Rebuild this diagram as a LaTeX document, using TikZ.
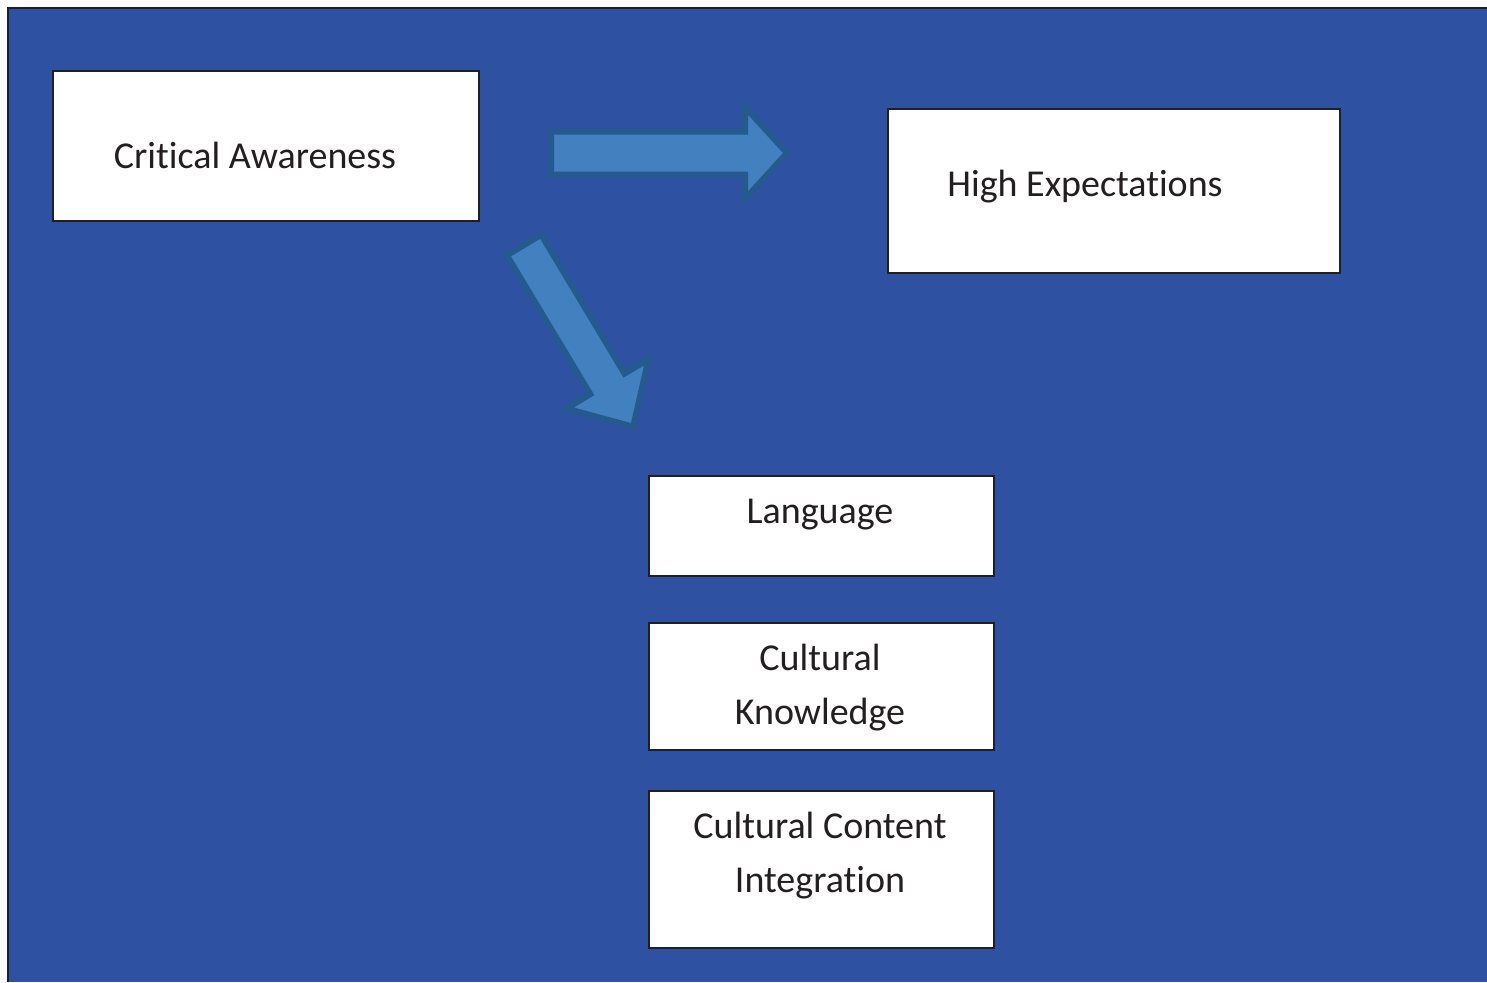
\documentclass[tikz,border=0pt]{standalone}
\usepackage{fontspec}
\setmainfont{Carlito}[Ligatures=NoCommon]
\definecolor{bgblue}{HTML}{2E51A2}
\definecolor{arrowfill}{HTML}{4380BF}
\definecolor{arrowedge}{HTML}{245A8E}
\definecolor{ink}{HTML}{231F20}
\begin{document}
\begin{tikzpicture}[x=1pt,y=-1pt,
  box/.style={draw=ink,line width=2pt,fill=white,inner sep=0pt,anchor=north west},
  label/.style={text=ink,font=\fontsize{38}{54}\selectfont,align=center,inner sep=0pt},
  blockarrow/.style={fill=arrowfill,draw=arrowedge,line width=6pt,line join=miter}]
\useasboundingbox (0,0) rectangle (1487,982);
% page background
\fill[white] (0,0) rectangle (1487,982);
\fill[bgblue] (8,8) rectangle (1487,982);
\draw[ink,line width=2pt] (8,982) -- (8,8) -- (1487,8);

% boxes
\node[box,minimum width=426pt,minimum height=150pt] (ca) at (52,70) {};
\node[box,minimum width=452pt,minimum height=164pt] (he) at (887,108) {};
\node[box,minimum width=345pt,minimum height=100pt] (lang) at (648,475) {};
\node[box,minimum width=345pt,minimum height=127pt] (ck) at (648,622) {};
\node[box,minimum width=345pt,minimum height=157pt] (cci) at (648,790) {};

% labels
\node[label] (tca) at (255,155) {Critical Awareness};
\node[label] (the) at (1085,187) {High Expectations};
\node[label] (tlang) at (820,515) {Language};
\node[label] (tck) at (820,688) {Cultural\\Knowledge};
\node[label] (tcci) at (820,856) {Cultural Content\\Integration};

% block arrows
\begin{scope}[shift={(551,153)}]
  \draw[blockarrow] (0,-21.5) -- (194,-21.5) -- (194,-46) -- (236,0)
    -- (194,46) -- (194,21.5) -- (0,21.5) -- cycle;
\end{scope}
\begin{scope}[shift={(524,245)},rotate=-59]
  \draw[blockarrow] (0,-20) -- (162,-20) -- (162,-48) -- (212,0)
    -- (162,48) -- (162,20) -- (0,20) -- cycle;
\end{scope}
\end{tikzpicture}
\end{document}
